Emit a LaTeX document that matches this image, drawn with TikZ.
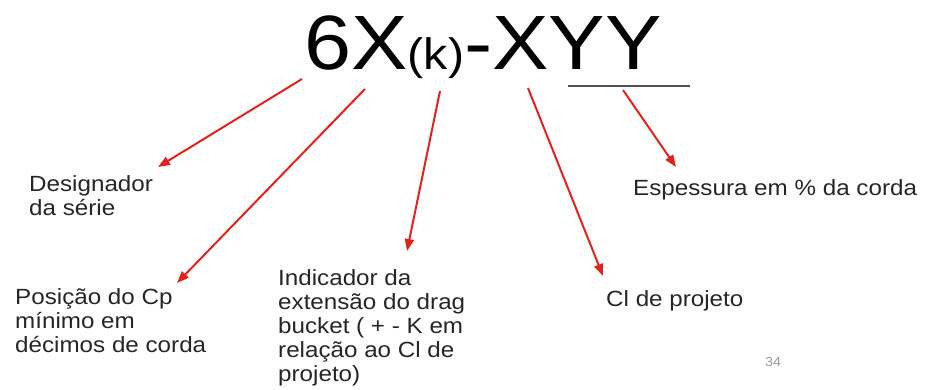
\documentclass[tikz,border=0pt]{standalone}
\usepackage{fontspec}
\setmainfont[FakeStretch=1.1]{Liberation Sans}
\usetikzlibrary{arrows.meta,positioning}
\definecolor{ptred}{HTML}{E3231B}
\definecolor{ptgray}{HTML}{9A9A9A}
\definecolor{ptink}{HTML}{262626}
\tikzset{
  % serie code at the top, labels below it
  code/.style  = {font=\fontsize{77}{77}\selectfont, inner sep=0pt, anchor=base west},
  lbl/.style   = {font=\fontsize{22}{24}\selectfont, text=ptink, align=left,
                  inner sep=0pt, anchor=north west},
  ptr/.style   = {-{Triangle[length=12pt,width=9pt]}, ptred, line width=2pt},
  pgno/.style  = {font=\fontsize{13}{13}\selectfont, text=ptgray, inner sep=0pt, anchor=base west},
}
\begin{document}
\begin{tikzpicture}[x=1pt,y=-1pt]
\useasboundingbox (0,0) rectangle (926,390);
\node[code] (code) at (304,70) {6X{\fontsize{44}{44}\selectfont(k)}-XYY};
\coordinate (ulA) at (568,86);
\coordinate (ulB) at (690,86);
\draw[ptink!80, line width=1.3pt] (ulA) -- (ulB);
% labels
\node[lbl] (des) at (29,175)  {Designador\\da série};
\node[lbl] (pos) at (15,288)  {Posição do Cp\\mínimo em\\décimos de corda};
\node[lbl] (ind) at (278,269) {Indicador da\\extensão do drag\\bucket ( + - K em\\relação ao Cl de\\projeto)};
\node[lbl] (cl)  at (606,290) {Cl de projeto};
\node[lbl] (esp) at (633,179) {Espessura em \% da corda};
\node[pgno] (pg) at (765,366) {34};
% arrows
\coordinate (s1) at (302,79);  \coordinate (e1) at (158,167);
\coordinate (s2) at (365,89);  \coordinate (e2) at (177,283);
\coordinate (s3) at (440,91);  \coordinate (e3) at (407,251);
\coordinate (s4) at (528,88);  \coordinate (e4) at (603,276);
\coordinate (s5) at (623,90);  \coordinate (e5) at (676,167);
\foreach \i in {1,...,5}
  \draw[ptr] (s\i) -- (e\i);
\end{tikzpicture}
\end{document}
